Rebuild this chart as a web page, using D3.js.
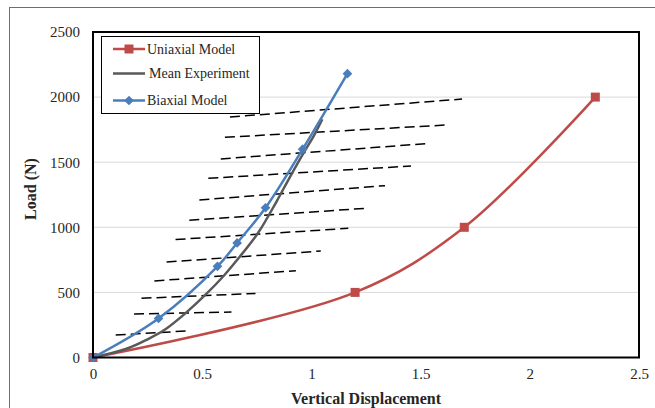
<!DOCTYPE html>
<html><head><meta charset="utf-8">
<script src="https://cdn.jsdelivr.net/npm/d3@7"></script>
<style>body{margin:0;background:#fff}svg{display:block}</style>
</head><body>
<script>
// ---- data ----
const xTicks = [0, 0.5, 1, 1.5, 2, 2.5];
const yTicks = [0, 500, 1000, 1500, 2000, 2500];
const uniaxialX = [0, 1.2, 1.7, 2.3];
const uniaxialY = [0, 500, 1000, 2000];
const biaxialX = [0, 0.3, 0.57, 0.66, 0.79, 0.96, 1.165];
const biaxialY = [0, 300, 700, 880, 1150, 1600, 2180];
const meanX = [0, 0.15, 0.25, 0.33, 0.42, 0.52, 0.6, 0.665, 0.757, 0.841, 0.894, 0.963, 1.009, 1.05];
const meanY = [0, 65, 140, 215, 335, 490, 630, 760, 960, 1200, 1363, 1568, 1696, 1830];
// dashed reference lines: start/end in data units
const dashX1 = [0.627, 0.604, 0.585, 0.528, 0.487, 0.441, 0.378, 0.337, 0.281, 0.222, 0.188, 0.104];
const dashY1 = [1847, 1691, 1525, 1376, 1210, 1054, 906, 733, 588, 455, 334, 173];
const dashX2 = [1.690, 1.620, 1.543, 1.456, 1.337, 1.250, 1.169, 1.043, 0.929, 0.744, 0.634, 0.433];
const dashY2 = [1985, 1786, 1645, 1471, 1320, 1146, 992, 818, 667, 492, 349, 204];
const seriesNames = ["Uniaxial Model", "Mean Experiment", "Biaxial Model"];
const xTitle = "Vertical Displacement";
const yTitle = "Load (N)";

// ---- layout ----
const W = 655, H = 408;
const m = {l: 93, r: 16, t: 32, b: 50.5};
const svg = d3.select("body").append("svg").attr("width", W).attr("height", H);
const x = d3.scaleLinear().domain([0, 2.5]).range([m.l, W - m.r]);
const y = d3.scaleLinear().domain([0, 2500]).range([H - m.b, m.t]);
const serif = "'Liberation Serif','Times New Roman',serif";
const cRed = "#be4b48", cGray = "#595959", cBlue = "#4a7ebb";

// outer frame
svg.append("rect").attr("x", 9.5).attr("y", 7.5).attr("width", W).attr("height", H)
  .attr("fill", "none").attr("stroke", "#6f6f6f").attr("stroke-width", 1);

// gridlines
svg.append("g").selectAll("line").data(yTicks.filter(d => d > 0 && d < 2500)).join("line")
  .attr("x1", x(0)).attr("x2", x(2.5)).attr("y1", d => y(d)).attr("y2", d => y(d))
  .attr("stroke", "#d9d9d9").attr("stroke-width", 1);

// axes labels
const xAxis = d3.axisBottom(x).tickValues(xTicks).tickSize(0).tickPadding(11).tickFormat(d3.format("~g"));
const gx = svg.append("g").attr("transform", `translate(0,${y(0)})`).call(xAxis);
gx.select(".domain").remove();
gx.selectAll("text").attr("font-family", serif).attr("font-size", 15).attr("fill", "#262626");
const yAxis = d3.axisLeft(y).tickValues(yTicks).tickSize(0).tickPadding(13).tickFormat(d3.format("d"));
const gy = svg.append("g").attr("transform", `translate(${x(0)},0)`).call(yAxis);
gy.select(".domain").remove();
gy.selectAll("text").attr("font-family", serif).attr("font-size", 15).attr("fill", "#262626");

// dashed lines
svg.append("g").selectAll("line").data(dashX1.map((d, i) => i)).join("line")
  .attr("x1", i => x(dashX1[i])).attr("y1", i => y(dashY1[i]))
  .attr("x2", i => x(dashX2[i])).attr("y2", i => y(dashY2[i]))
  .attr("stroke", "#000").attr("stroke-width", 1.5).attr("stroke-dasharray", "10,5");

// series lines
const line = d3.line().x(d => x(d[0])).y(d => y(d[1])).curve(d3.curveCatmullRom.alpha(0.5));
const uni = uniaxialX.map((v, i) => [v, uniaxialY[i]]);
const bia = biaxialX.map((v, i) => [v, biaxialY[i]]);
const mean = meanX.map((v, i) => [v, meanY[i]]);
svg.append("path").attr("d", line(uni)).attr("fill", "none").attr("stroke", cRed).attr("stroke-width", 2.5);
svg.append("path").attr("d", line(mean)).attr("fill", "none").attr("stroke", cGray).attr("stroke-width", 2.5);
svg.append("g").selectAll("rect").data(uni).join("rect")
  .attr("x", d => x(d[0]) - 4.5).attr("y", d => y(d[1]) - 4.5).attr("width", 9).attr("height", 9).attr("fill", cRed);
svg.append("path").attr("d", line(bia)).attr("fill", "none").attr("stroke", cBlue).attr("stroke-width", 2.5);
const diamond = d3.symbol().type(d3.symbolDiamond2).size(60);
svg.append("g").selectAll("path").data(bia).join("path")
  .attr("transform", d => `translate(${x(d[0])},${y(d[1])})`).attr("d", diamond).attr("fill", cBlue);

// plot frame
svg.append("rect").attr("x", x(0)).attr("y", y(2500)).attr("width", x(2.5) - x(0)).attr("height", y(0) - y(2500))
  .attr("fill", "none").attr("stroke", "#000").attr("stroke-width", 2);

// legend
const lg = svg.append("g");
lg.append("rect").attr("x", 101.5).attr("y", 36.5).attr("width", 158).attr("height", 77)
  .attr("fill", "#fff").attr("stroke", "#000").attr("stroke-width", 1);
const ly = [49, 73.5, 100.5];
const lc = [cRed, cGray, cBlue];
seriesNames.forEach((name, i) => {
  lg.append("line").attr("x1", 113).attr("x2", 145).attr("y1", ly[i]).attr("y2", ly[i])
    .attr("stroke", lc[i]).attr("stroke-width", 2.5);
  if (i === 0) lg.append("rect").attr("x", 124.5).attr("y", ly[i] - 4.5).attr("width", 9).attr("height", 9).attr("fill", cRed);
  if (i === 2) lg.append("path").attr("transform", `translate(129,${ly[i]})`).attr("d", diamond).attr("fill", cBlue);
  lg.append("text").attr("x", i === 1 ? 149 : 147).attr("y", ly[i]).attr("dy", "0.35em")
    .attr("font-family", serif).attr("font-size", 14).attr("fill", "#262626").text(name);
});

// axis titles
svg.append("text").attr("x", (x(0) + x(2.5)) / 2).attr("y", 404).attr("text-anchor", "middle")
  .attr("font-family", serif).attr("font-size", 16).attr("font-weight", "bold").attr("fill", "#262626").text(xTitle);
svg.append("text").attr("transform", `translate(36,189) rotate(-90)`).attr("text-anchor", "middle")
  .attr("font-family", serif).attr("font-size", 16).attr("font-weight", "bold").attr("fill", "#262626").text(yTitle);
</script>
</body></html>
